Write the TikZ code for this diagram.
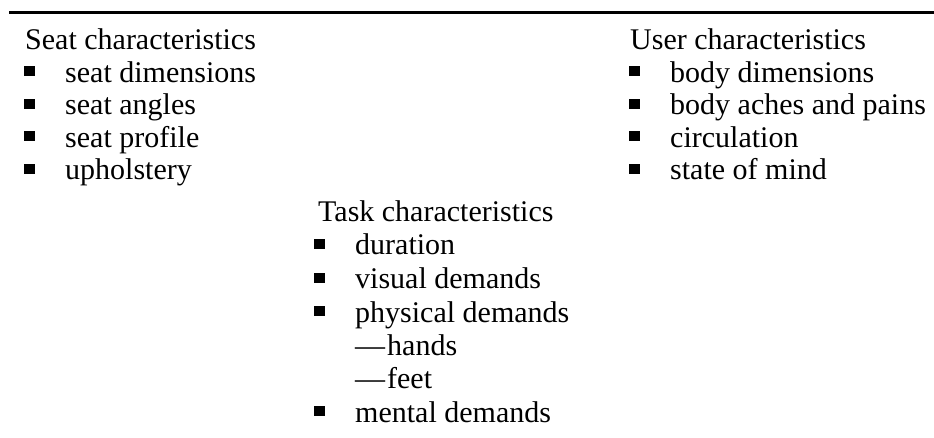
\documentclass[tikz,border=0pt]{standalone}
\usepackage{fontspec}
\setmainfont{Liberation Serif}
\begin{document}
\begin{tikzpicture}[x=1pt,y=1pt,
  txt/.style={anchor=base west, inner sep=0pt, font=\fontsize{30}{33}\selectfont},
  sq/.style={fill=black, draw=none, minimum width=10.5pt, minimum height=10pt, inner sep=0pt, anchor=south west},
  rulebar/.style={line width=3pt}]
  \useasboundingbox (0,0) rectangle (934,-438);

  % top rule
  \coordinate (ruleL) at (9,-12.5);
  \coordinate (ruleR) at (934,-12.5);
  \draw[rulebar] (ruleL) -- (ruleR);

  % seat column
  \node[txt] (seathead) at (25,-50) {Seat characteristics};
  \foreach \t [count=\i] in {seat dimensions, seat angles, seat profile, upholstery} {
    \node[txt] (seat\i) at (65,{-50-32.5*\i}) {\t};
    \node[sq] (seatb\i) at (24,{-50-32.5*\i+6}) {};
  }

  % user column
  \node[txt] (userhead) at (630,-50) {User characteristics};
  \foreach \t [count=\i] in {body dimensions, body aches and pains, circulation, state of mind} {
    \node[txt] (user\i) at (670,{-50-32.5*\i}) {\t};
    \node[sq] (userb\i) at (629,{-50-32.5*\i+6}) {};
  }

  % task column
  \node[txt] (taskhead) at (318,-222) {Task characteristics};
  \node[txt] (task1) at (355,-255) {duration};
  \node[sq]  (taskb1) at (314,-249) {};
  \node[txt] (task2) at (355,-289) {visual demands};
  \node[sq]  (taskb2) at (314,-283) {};
  \node[txt] (task3) at (355,-322) {physical demands};
  \node[sq]  (taskb3) at (314,-316) {};
  \node[txt] (sub1) at (355,-355) {\textemdash\hspace{2pt}hands};
  \node[txt] (sub2) at (355,-388) {\textemdash\hspace{2pt}feet};
  \node[txt] (task4) at (355,-422) {mental demands};
  \node[sq]  (taskb4) at (314,-416) {};
\end{tikzpicture}
\end{document}
